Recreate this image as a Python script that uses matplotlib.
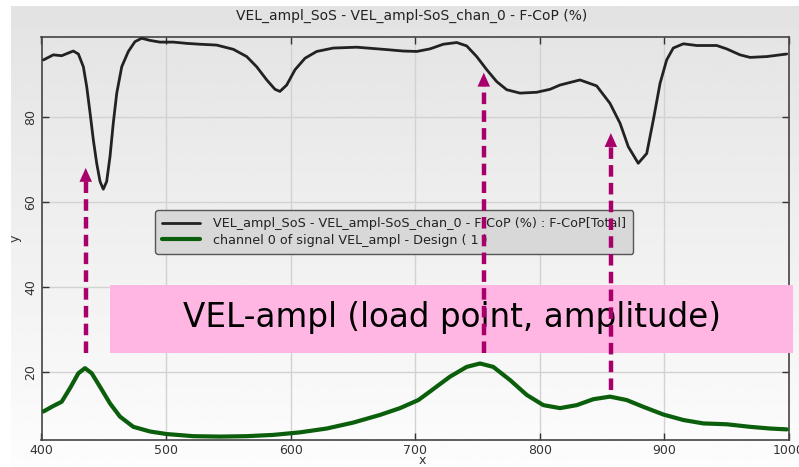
import numpy as np
import matplotlib
matplotlib.use("Agg")
import matplotlib.pyplot as plt
from matplotlib.patches import Rectangle

# ---- data ----
fcop_x = [401.5, 409.5, 416.2, 425.5, 429.6, 433.6, 436.3, 439.0, 441.6, 444.3, 447.0, 449.6,
          452.3, 455.0, 457.6, 460.4, 464.4, 469.7, 475.0, 480.4, 487.1, 495.1, 505.8, 516.6,
          527.2, 540.6, 554.0, 564.7, 572.7, 580.8, 587.4, 591.4, 596.8, 603.5, 611.5, 620.9,
          634.2, 653.0, 674.4, 690.4, 701.2, 711.8, 722.5, 733.3, 741.3, 749.3, 757.4, 765.4,
          773.4, 784.1, 797.5, 808.2, 816.2, 832.2, 845.6, 856.3, 864.4, 871.0, 879.0, 885.8,
          891.1, 896.5, 901.8, 907.1, 915.2, 925.9, 942.0, 950.0, 960.7, 968.8, 982.2, 998.2]
fcop_y = [93.4, 94.6, 94.4, 95.5, 94.8, 91.8, 87.1, 80.9, 74.6, 69.1, 64.8, 63.0,
          64.8, 70.7, 78.5, 85.6, 91.8, 95.4, 97.7, 98.5, 98.0, 97.6, 97.6, 97.3,
          97.1, 96.9, 95.9, 94.2, 91.8, 88.7, 86.5, 86.0, 87.5, 91.1, 93.8, 95.4,
          96.2, 96.4, 95.9, 95.5, 95.4, 96.0, 97.1, 97.5, 96.7, 94.2, 91.1, 88.3,
          86.4, 85.6, 85.8, 86.5, 87.5, 88.7, 87.3, 83.2, 78.5, 73.0, 69.1, 71.4,
          79.3, 87.9, 93.4, 96.2, 97.2, 96.8, 96.8, 96.0, 94.6, 94.0, 94.2, 94.8]

chan_x = [401.5, 409.5, 416.2, 422.9, 429.6, 434.9, 440.3, 447.0, 455.0, 463.0, 473.7, 487.1,
          500.5, 521.8, 543.3, 564.7, 586.0, 607.5, 628.9, 650.3, 671.7, 687.8, 702.5, 711.8,
          727.9, 741.3, 752.0, 762.6, 776.1, 789.5, 802.8, 816.2, 829.6, 843.0, 856.3, 869.7,
          883.1, 899.1, 915.2, 931.3, 950.0, 968.7, 984.8, 998.2]
chan_y = [10.7, 12.0, 13.0, 16.2, 19.7, 20.9, 19.7, 16.5, 12.6, 9.5, 7.1, 6.0,
          5.4, 4.9, 4.8, 4.9, 5.2, 5.8, 6.7, 8.1, 9.9, 11.5, 13.4, 15.4,
          18.9, 21.2, 22.0, 21.2, 18.1, 14.6, 12.2, 11.5, 12.2, 13.6, 14.2, 13.4,
          11.8, 10.0, 8.7, 7.9, 7.7, 7.1, 6.7, 6.5]

arrow_x = [435.5, 755, 857]
arrow_from = [24.5, 24.5, 15.8]
arrow_to = [68.0, 90.4, 76.2]

xticks = [400, 500, 600, 700, 800, 900, 1000]
yticks = [20, 40, 60, 80]

title = "VEL_ampl_SoS - VEL_ampl-SoS_chan_0 - F-CoP (%)"
label_fcop = "VEL_ampl_SoS - VEL_ampl-SoS_chan_0 - F-CoP (%) : F-CoP[Total]"
label_chan = "channel 0 of signal VEL_ampl - Design ( 1 )"
banner = "VEL-ampl (load point, amplitude)"

# ---- figure ----
W, H = 799, 467
fig = plt.figure(figsize=(W / 100, H / 100), dpi=100)
fig.patch.set_facecolor("white")

# gradient background panel
bg = fig.add_axes([11 / W, 0, 1 - 11 / W, 1 - 6 / H], zorder=-10)
grad = np.linspace(0.89, 0.99, 256).reshape(-1, 1)
bg.imshow(grad, aspect="auto", cmap="gray", vmin=0, vmax=1, origin="upper",
          extent=[0, 1, 0, 1])
bg.set_axis_off()

ax = fig.add_axes([41.5 / W, (H - 440) / H, (789 - 41.5) / W, (440 - 37) / H])
ax.set_facecolor("none")

ax.plot(fcop_x, fcop_y, color="#222222", lw=2.0, zorder=3, label=label_fcop,
        solid_joinstyle="round", solid_capstyle="round")
ax.plot(chan_x, chan_y, color="#0b5e0b", lw=3.0, zorder=3, label=label_chan,
        solid_joinstyle="round", solid_capstyle="round")

ax.set_xlim(400, 1000)
ax.set_ylim(4, 98.8)
ax.set_xticks(xticks)
ax.set_yticks(yticks)
ax.grid(True, color="#d2d2d2", lw=1.0)
ax.tick_params(direction="in", length=5, width=1, colors="#333333",
               top=True, right=True, labelsize=9, pad=3)
for lab in ax.get_yticklabels():
    lab.set_rotation(90)
    lab.set_va("center")
for s in ax.spines.values():
    s.set_color("#444444")
    s.set_linewidth(1.2)

ax.set_xlabel("x", fontsize=9, color="#333333", va="center")
ax.xaxis.set_label_coords((422 - 41.5) / (789 - 41.5), (440 - 460) / (440 - 37))
ax.set_ylabel("y", fontsize=9, color="#333333", labelpad=2)
fig.text(412 / W, 1 - 16 / H, title, ha="center", va="center", fontsize=10, color="#222222")

# legend
leg = ax.legend(loc="upper left",
                bbox_to_anchor=((155 - 41.5) / (789 - 41.5), (440 - 210) / (440 - 37)),
                borderaxespad=0, fontsize=9.2, frameon=True, fancybox=True,
                handlelength=3.0, borderpad=0.55, labelspacing=0.3, handletextpad=1.0)
leg.get_frame().set_facecolor("#d8d8d8")
leg.get_frame().set_edgecolor("#555555")
leg.get_frame().set_alpha(1)
leg.set_zorder(5)
for t in leg.get_texts():
    t.set_color("#222222")

# pink banner (figure coordinates, drawn inside the axes' z-order)
ax.add_patch(Rectangle((110 / W, (H - 353) / H), (793 - 110) / W, (353 - 285) / H,
                       transform=fig.transFigure, facecolor="#ffb6e3",
                       edgecolor="none", zorder=6, clip_on=False))
ax.text(452 / W, (H - 318) / H, banner, ha="center", va="center",
        fontsize=23.5, family="DejaVu Sans", color="black", zorder=7,
        transform=fig.transFigure)

# arrows (dashed shaft + head)
acol = "#a8006a"
for x, y0, y1 in zip(arrow_x, arrow_from, arrow_to):
    ax.plot([x, x], [y0, y1 - 3], color=acol, lw=3.2, ls=(0, (2.6, 1.4)),
            dash_capstyle="butt", zorder=8, clip_on=False)
    ax.annotate("", xy=(x, y1), xytext=(x, y1 - 3.6),
                arrowprops=dict(arrowstyle="-|>,head_width=0.45,head_length=1.0",
                                color=acol, lw=0, shrinkA=0, shrinkB=0),
                zorder=9)

fig.savefig("out.png", dpi=100)
